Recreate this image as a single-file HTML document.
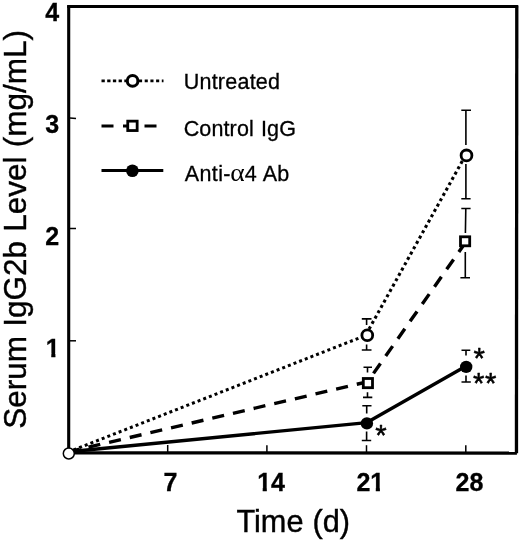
<!DOCTYPE html>
<html>
<head>
<meta charset="utf-8">
<title>Serum IgG2b Level</title>
<style>
html,body{margin:0;padding:0;background:#fff;}
body{width:520px;height:540px;overflow:hidden;}
svg{display:block;will-change:transform;filter:grayscale(1) blur(0.4px);}
text{font-family:"Liberation Sans",sans-serif;fill:#000;}
.b{font-weight:bold;font-size:25px;stroke:#000;stroke-width:0.3px;}
.ast{font-size:29.3px;stroke:#000;stroke-width:0.5px;stroke-linejoin:round;letter-spacing:0.6px;}
.leg{font-size:21.5px;letter-spacing:0.13px;word-spacing:1px;stroke:#000;stroke-width:0.3px;}
.t{stroke:#000;stroke-width:0.4px;}
.eb{stroke:#000;stroke-width:1.6;fill:none;}
</style>
</head>
<body>
<svg width="520" height="540" viewBox="0 0 520 540">
<rect x="0" y="0" width="520" height="540" fill="#fff"/>

<defs>
<clipPath id="c1"><rect x="40" y="330" width="30" height="23.6"/><rect x="51.3" y="353" width="4.1" height="5"/></clipPath>
<clipPath id="c14"><rect x="250" y="465" width="40" height="22.9"/><rect x="262.7" y="487" width="4.1" height="5"/><rect x="271.3" y="487" width="16" height="5"/></clipPath>
<clipPath id="c21"><rect x="350" y="465" width="40" height="22.9"/><rect x="354" y="487" width="16.3" height="5"/><rect x="375.8" y="487" width="4.1" height="5"/></clipPath>
</defs>
<!-- frame -->
<g stroke="#000" fill="none" stroke-linecap="butt">
<line x1="67.15" y1="6.5" x2="518.1" y2="6.5" stroke-width="3"/>
<line x1="516.8" y1="5.5" x2="516.45" y2="453.3" stroke-width="3.3"/>
<line x1="67.15" y1="452.8" x2="516.9" y2="453.2" stroke-width="3.3"/>
<line x1="68.7" y1="5.5" x2="68.7" y2="454" stroke-width="3.1"/>
</g>

<!-- ticks -->
<g stroke="#000" stroke-width="1.5" fill="none">
<line x1="70" y1="340.8" x2="76" y2="340.8"/>
<line x1="70" y1="228.5" x2="76" y2="228.5"/>
<line x1="70" y1="117.9" x2="76" y2="118.5"/>
<line x1="167.7" y1="445" x2="167.7" y2="452"/>
<line x1="266.9" y1="445.2" x2="266.9" y2="452"/>
<line x1="366.5" y1="445.2" x2="366.5" y2="452"/>
<line x1="465.8" y1="445.2" x2="465.8" y2="452"/>
</g>

<!-- y tick labels -->
<text class="b" x="45.3" y="20.7">4</text>
<text class="b" x="45.3" y="132.6">3</text>
<text class="b" x="45.3" y="244.8">2</text>
<text class="b" x="45.8" y="356.7" clip-path="url(#c1)">1</text>

<!-- x tick labels -->
<text class="b" x="170.5" y="491" text-anchor="middle">7</text>
<text class="b" x="271.1" y="491" text-anchor="middle" clip-path="url(#c14)">14</text>
<text class="b" x="370.3" y="491" text-anchor="middle" clip-path="url(#c21)">21</text>
<text class="b" x="469.5" y="491" text-anchor="middle">28</text>

<!-- axis titles -->
<text class="t" x="236.4" y="531.6" font-size="30.7" style="word-spacing:0.5px">Time (d)</text>
<text class="t" transform="translate(26.3,428.8) rotate(-90) scale(0.9845,1)" font-size="32" style="word-spacing:0.5px">Serum IgG2b Level (mg/mL)</text>

<!-- data lines -->
<polyline points="68.8,451.8 366.9,422.6 466.2,366.1" fill="none" stroke="#000" stroke-width="3.4" stroke-linejoin="round"/>
<line x1="68.8" y1="451.8" x2="368.2" y2="381.6" stroke="#000" stroke-width="3.4" stroke-dasharray="12.1 9.1" stroke-dashoffset="1"/>
<line x1="366.6" y1="383.2" x2="466.2" y2="241.5" stroke="#000" stroke-width="3.4" stroke-dasharray="12.1 9.1" stroke-dashoffset="9.2"/>
<line x1="68.8" y1="451.8" x2="366.5" y2="335.1" stroke="#000" stroke-width="3" stroke-dasharray="3 3.06" stroke-dashoffset="1"/>
<line x1="365.7" y1="335.1" x2="465.7" y2="155" stroke="#000" stroke-width="3.1" stroke-dasharray="3 3.1" stroke-dashoffset="5.3"/>

<!-- error bars: untreated d21 -->
<g class="eb">
<path d="M361.8 318.9H371.5M366.6 318.9V325"/>
<path d="M361.8 350H371.5M366.6 350V344.5"/>
<!-- control d21 -->
<path d="M363.5 367.3H372M367.5 367.3V372.5"/>
<path d="M363 397.4H372.3M367.5 397.4V392.3"/>
<!-- anti d21 -->
<path d="M362.3 405.7H371.5M366.7 405.7V413.5"/>
<path d="M361.8 440.5H371.2M366.6 440.5V431.5"/>
<!-- untreated d28 -->
<path d="M461.3 110.2H471M465.9 110.2V145"/>
<path d="M461.3 198.8H470.6M465.9 198.8V164"/>
<!-- control d28 -->
<path d="M461.3 208.5H470.6M465.8 208.5L465.4 233"/>
<path d="M460.4 277.7H470M465.3 277.7V252"/>
<!-- anti d28 -->
<path d="M461.5 350.3H470.3M466 350.3V355.5"/>
<path d="M461.5 382H470.8M466 382V375.6"/>
</g>

<!-- markers -->
<circle cx="68.8" cy="453.5" r="5.5" fill="#fff" stroke="#000" stroke-width="1.5"/>
<circle cx="367.3" cy="335.2" r="5.4" fill="#fff" stroke="#000" stroke-width="2.8"/>
<circle cx="466.5" cy="155.4" r="5.4" fill="#fff" stroke="#000" stroke-width="2.8"/>
<rect x="363.3" y="378.5" width="9.2" height="9.2" fill="#fff" stroke="#000" stroke-width="2.8"/>
<rect x="460.5" y="236.8" width="9.2" height="9" fill="#fff" stroke="#000" stroke-width="2.8"/>
<circle cx="366.9" cy="423.4" r="6.2" fill="#000"/>
<circle cx="466.2" cy="366.9" r="6.2" fill="#000"/>

<!-- asterisks -->
<text class="ast" x="375.2" y="444.5">*</text>
<text class="ast" x="473.4" y="368.1">*</text>
<text class="ast" x="472.9" y="392.7">**</text>

<!-- legend -->
<line x1="101.5" y1="80.8" x2="128" y2="80.8" stroke="#000" stroke-width="2.8" stroke-dasharray="3.3 2.4"/>
<line x1="139" y1="80.8" x2="163.5" y2="80.8" stroke="#000" stroke-width="2.8" stroke-dasharray="3.1 2.6"/>
<circle cx="132.6" cy="80.9" r="5.3" fill="#fff" stroke="#000" stroke-width="3"/>
<line x1="101.5" y1="126" x2="163.5" y2="126" stroke="#000" stroke-width="2.8" stroke-dasharray="12 9.5"/>
<rect x="127.75" y="121.15" width="9.4" height="9.4" fill="#fff" stroke="#000" stroke-width="2.8"/>
<line x1="101.5" y1="170.6" x2="163.3" y2="170.6" stroke="#000" stroke-width="3"/>
<circle cx="132.4" cy="170.7" r="6.3" fill="#000"/>
<text class="leg" x="183.7" y="88.6" style="letter-spacing:0.24px">Untreated</text>
<text class="leg" x="183.7" y="135.7">Control IgG</text>
<text class="leg" x="184.8" y="181" style="letter-spacing:0.38px">Anti-</text>
<text transform="translate(230.2,181) scale(1.06,1)" font-family="Liberation Serif" font-size="26" style="font-family:'Liberation Serif',serif">α</text>
<text class="leg" x="244.7" y="181">4 Ab</text>
</svg>
</body>
</html>
